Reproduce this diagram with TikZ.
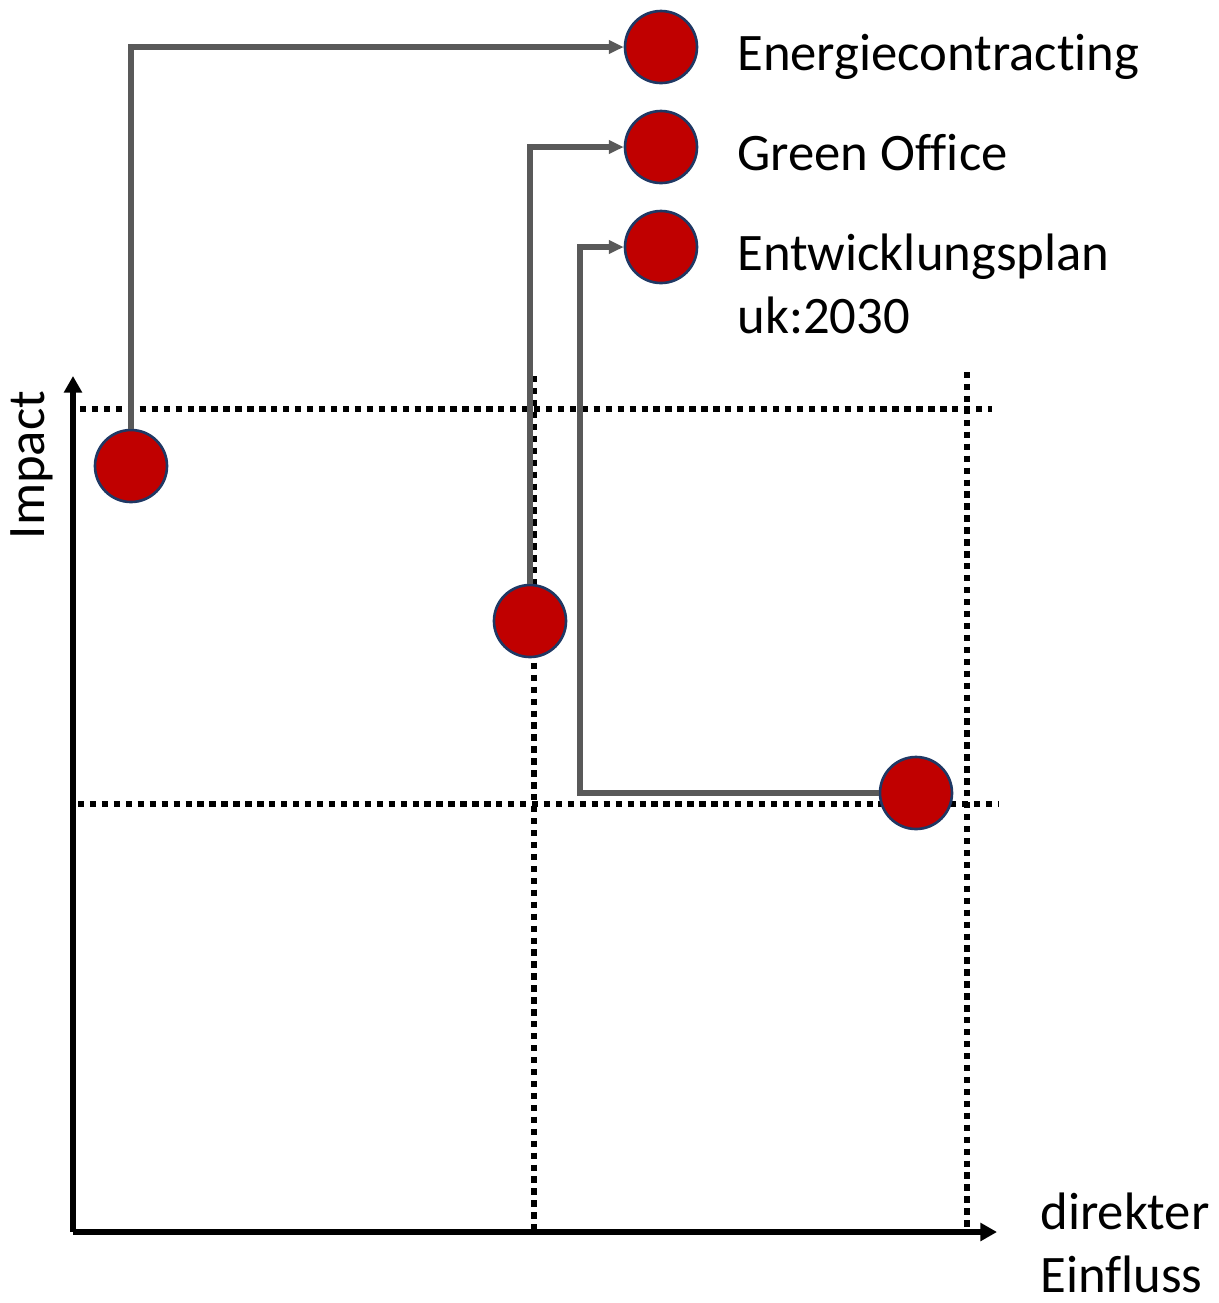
\documentclass[tikz,border=0pt]{standalone}
\usepackage{fontspec}
\setmainfont{Carlito}[Ligatures={NoCommon}]
\usepackage{tikz}
\usetikzlibrary{arrows.meta}

\definecolor{dotred}{HTML}{C00000}
\definecolor{dotrim}{HTML}{1F3864}
\definecolor{linkgray}{HTML}{595959}

\begin{document}
\begin{tikzpicture}
        [x=0.02cm, y=-0.02cm,
        pstyle/.style={circle, draw=dotrim, fill=dotred, line width=1.5pt, inner sep=0pt, minimum size=72*0.02cm},
        tstyle/.style={anchor=base west, inner sep=0pt, font=\fontsize{30}{35.7}\selectfont, align=left},
        astyle/.style={-{Triangle[length=9.5pt, width=10pt]}, line width=3.3pt},
        lstyle/.style={-{Triangle[length=8.5pt, width=7.5pt]}, draw=linkgray, line width=2.9pt},
        gstyle/.style={line width=3.6pt, dash pattern=on 3.6pt off 3.2pt}]

        \useasboundingbox (0,0) rectangle (1219,1303);

        % axes
        \coordinate (origin) at (73,1232);
        \coordinate (ytip)   at (73,376);
        \coordinate (xtip)   at (997,1232);
        \draw[astyle] (origin) -- (ytip);
        \draw[astyle] (origin) -- (xtip);

        % quadrant grid
        \coordinate (hhi1) at (80,409);
        \coordinate (hhi2) at (992,409);
        \coordinate (hlo1) at (78,804);
        \coordinate (hlo2) at (998,804);
        \coordinate (vmid1) at (534,376);
        \coordinate (vmid2) at (534,1230);
        \coordinate (vrt1) at (967,372);
        \coordinate (vrt2) at (967,1230);
        \draw[gstyle] (hhi1) -- (hhi2);
        \draw[gstyle] (hlo1) -- (hlo2);
        \draw[gstyle] (vmid1) -- (vmid2);
        \draw[gstyle] (vrt1) -- (vrt2);

        % legend
        \node[pstyle] (energie)  at (661,47)  {};
        \node[pstyle] (green)    at (661,147) {};
        \node[pstyle] (entwurf)  at (661,247) {};
        \node[tstyle] (energiet) at (737,70)  {Energiecontracting};
        \node[tstyle] (greent)   at (737,170) {Green Office};
        \node[tstyle] (entwurft) at (737,333) {Entwicklungsplan\\uk:2030};

        % positions in the matrix
        \node[pstyle] (penergie) at (131,466) {};
        \node[pstyle] (pgreen)   at (530,621) {};
        \node[pstyle] (pentwurf) at (916,793) {};

        \draw[lstyle] (penergie.north) |- (energie.west);
        \draw[lstyle] (pgreen.north) |- (green.west);
        \draw[lstyle] (pentwurf.west) -| (580,247) -- (entwurf.west);

        % axis labels
        \node[tstyle, anchor=base, rotate=90] (impact) at (45,465) {Impact};
        \node[tstyle] (einfluss) at (1040,1292) {direkter\\Einfluss};
    \end{tikzpicture}
\end{document}
